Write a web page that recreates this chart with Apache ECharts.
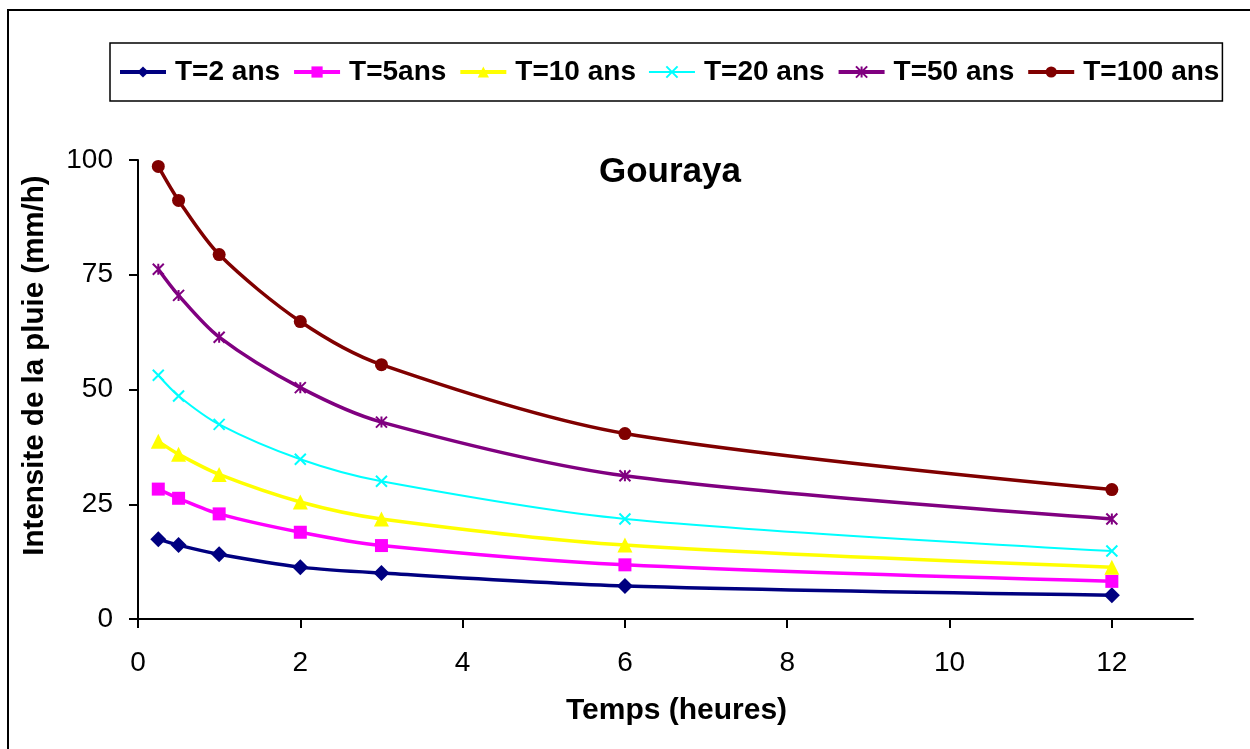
<!DOCTYPE html>
<html>
<head>
<meta charset="utf-8">
<script src="https://cdn.jsdelivr.net/npm/echarts@6/dist/echarts.min.js"></script>
<style>
  html, body { margin: 0; padding: 0; background: #fff; }
  #chart { width: 1250px; height: 749px; }
</style>
</head>
<body>
<div id="chart"></div>
<script>
  // durées (heures)
  const times = [0.25, 0.5, 1, 2, 3, 6, 12];
  const seriesNames = ["T=2 ans", "T=5ans", "T=10 ans", "T=20 ans", "T=50 ans", "T=100 ans"];
  const t2 = [17.4, 16.1, 14.1, 11.3, 10.0, 7.2, 5.2];
  const t5 = [28.3, 26.3, 22.9, 18.9, 16.0, 11.8, 8.2];
  const t10 = [38.7, 35.9, 31.5, 25.5, 21.8, 16.1, 11.3];
  const t20 = [53.1, 48.6, 42.4, 34.8, 30.0, 21.8, 14.8];
  const t50 = [76.2, 70.5, 61.4, 50.4, 42.9, 31.2, 21.8];
  const t100 = [98.6, 91.2, 79.4, 64.8, 55.4, 40.4, 28.2];
  const xTicks = [0, 2, 4, 6, 8, 10, 12];

  const pairs = (vals) => times.map((t, i) => [t, vals[i]]);
  const FONT = "Liberation Sans, Arial";

  const chart = echarts.init(document.getElementById("chart"));

  const mkSeries = (name, vals, color, symbol, size, width, extra) => Object.assign({
    name: name,
    type: "line",
    smooth: 0.3,
    data: pairs(vals),
    symbol: symbol,
    symbolSize: size,
    color: color,
    lineStyle: { color: color, width: width },
    itemStyle: { color: color },
    emphasis: { disabled: true },
  }, extra || {});

  // symboles en traits (x, étoile)
  const strokeSym = (color) => ({
    itemStyle: { color: color, borderColor: color, borderWidth: 2 },
  });

  chart.setOption({
    animation: false,
    graphic: [
      {
        type: "rect",
        shape: { x: 8, y: 10, width: 1260, height: 760 },
        style: { fill: "none", stroke: "#000", lineWidth: 2 },
        silent: true,
      },
    ],
    title: {
      text: "Gouraya",
      left: 665,
      top: 150,
      textAlign: "center",
      textStyle: { fontFamily: FONT, fontWeight: "bold", fontSize: 35, color: "#000" },
    },
    legend: {
      left: 110,
      top: 43,
      padding: [15, 3, 15, 8],
      itemGap: 12,
      itemWidth: 46,
      itemHeight: 14,
      borderColor: "#000",
      borderWidth: 1.5,
      textStyle: { fontFamily: FONT, fontWeight: "bold", fontSize: 28, color: "#000", padding: [0, 0, 0, 4] },
      data: seriesNames.map((n, i) => ({
        name: n,
        lineStyle: { width: i === 3 ? 2 : 4 },
      })),
    },
    grid: { left: 138, right: 57, top: 160, bottom: 130 },
    xAxis: {
      type: "value",
      min: 0,
      max: 13,
      name: "Temps (heures)",
      nameLocation: "middle",
      nameGap: 77,
      nameTextStyle: { fontFamily: FONT, fontWeight: "bold", fontSize: 30, color: "#000", padding: [0, 0, 0, 22] },
      axisLine: { lineStyle: { color: "#000", width: 2 } },
      axisTick: { show: true, inside: false, length: 9, customValues: xTicks, lineStyle: { color: "#000", width: 2 } },
      axisLabel: { customValues: xTicks, fontFamily: FONT, fontSize: 28, color: "#000", margin: 30 },
      splitLine: { show: false },
    },
    yAxis: {
      type: "value",
      min: 0,
      max: 100,
      interval: 25,
      name: "Intensite de la pluie (mm/h)",
      nameLocation: "middle",
      nameGap: 88,
      nameTextStyle: { fontFamily: FONT, fontWeight: "bold", fontSize: 29.5, color: "#000", padding: [0, 0, 0, 48] },
      axisLine: { show: true, lineStyle: { color: "#000", width: 2 } },
      axisTick: { show: true, inside: false, length: 9, lineStyle: { color: "#000", width: 2 } },
      axisLabel: { fontFamily: FONT, fontSize: 28, color: "#000", margin: 25 },
      splitLine: { show: false },
    },
    series: [
      mkSeries(seriesNames[0], t2, "#000080", "diamond", 16, 3.5),
      mkSeries(seriesNames[1], t5, "#FF00FF", "rect", 13, 3.5),
      mkSeries(seriesNames[2], t10, "#FFFF00", "triangle", 15, 3.5),
      mkSeries(seriesNames[3], t20, "#00FFFF", "path://M0,0L10,10M10,0L0,10", 11, 2, strokeSym("#00FFFF")),
      mkSeries(seriesNames[4], t50, "#800080", "path://M0,0L10,10M10,0L0,10M5,0L5,10", 11, 3.5, strokeSym("#800080")),
      mkSeries(seriesNames[5], t100, "#800000", "circle", 13, 3.5),
    ],
  });
</script>
</body>
</html>
